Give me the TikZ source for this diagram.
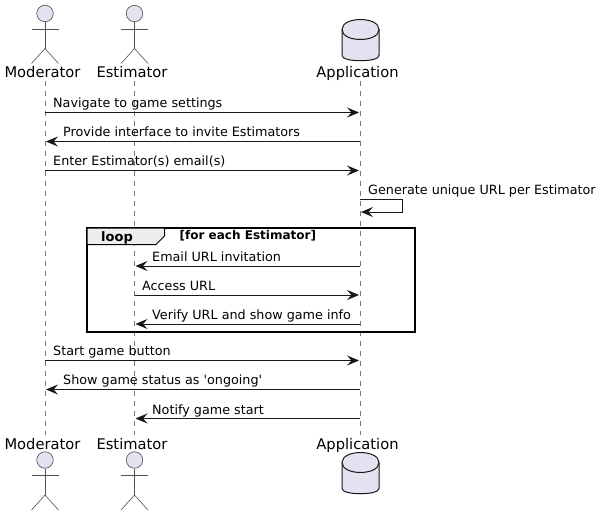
\documentclass[tikz,border=0pt]{standalone}
\usepackage{fontspec}
\setmainfont{DejaVu Sans}
\newfontfamily\plainf{DejaVu Sans}
\usetikzlibrary{arrows.meta}
\definecolor{actorfill}{HTML}{E2E2F0}
\definecolor{lifegrey}{HTML}{777777}
\definecolor{ink}{HTML}{181818}
\definecolor{tabfill}{HTML}{EEEEEE}
\tikzset{
  x=1pt,y=-1pt,
  lifeline/.style={draw=lifegrey,line width=0.6pt,dash pattern=on 5pt off 5pt},
  msg/.style={draw=ink,line width=0.9pt,-{Stealth[length=12pt,width=10pt,inset=4.5pt]},shorten >=1pt},
  actorlabel/.style={anchor=base,inner sep=0pt,font=\plainf\fontsize{14.7}{16}\selectfont,text=black},
  msglabel/.style={anchor=base west,inner sep=0pt,font=\plainf\fontsize{12.75}{15}\selectfont,text=black},
  stick/.style={draw=ink!75,line width=0.6pt},
  head/.style={circle,draw=ink!75,fill=actorfill,line width=0.6pt,minimum size=16.5pt,inner sep=0pt},
  dbline/.style={draw=ink,line width=1pt,fill=actorfill},
  framebox/.style={draw=black,line width=1.5pt},
}
\newcommand{\myactor}[3]{% name, x, head y
  \node[head] (#1) at (#2,#3) {};
  \draw[stick] (#1.south) -- ++(0,26.5) coordinate (#1hip);
  \draw[stick] (#2-13.5,#3+15.5) -- (#2+13.5,#3+15.5);
  \draw[stick] (#1hip) -- ++(-13.5,15);
  \draw[stick] (#1hip) -- ++(13.5,15);
}
\newcommand{\mydb}[2]{% x, top y
  \draw[dbline] (#1-18.5,#2+10) -- (#1-18.5,#2+36)
    .. controls (#1-18.5,#2+43) and (#1+18.5,#2+43) .. (#1+18.5,#2+36)
    -- (#1+18.5,#2+10)
    .. controls (#1+18.5,#2-3.3) and (#1-18.5,#2-3.3) .. (#1-18.5,#2+10) -- cycle;
  \draw[dbline,fill=none] (#1-18.5,#2+10)
    .. controls (#1-18.5,#2+23.3) and (#1+18.5,#2+23.3) .. (#1+18.5,#2+10);
}
\begin{document}
\begin{tikzpicture}
\useasboundingbox (0,0) rectangle (600,516);
\fill[white] (0,0) rectangle (600,516);
% lifelines
\coordinate (modT) at (45,81);   \coordinate (modB) at (45,435);
\coordinate (estT) at (134.5,81);\coordinate (estB) at (134.5,435);
\coordinate (appT) at (360,81);  \coordinate (appB) at (360,435);
\draw[lifeline] (modT) -- (modB);
\draw[lifeline] (estT) -- (estB);
\draw[lifeline] (appT) -- (appB);
% participants
\myactor{modH}{45}{13.5}
\myactor{estH}{134.5}{13.5}
\myactor{modF}{45}{460}
\myactor{estF}{134.5}{460}
\mydb{360.5}{19.5}
\mydb{360.5}{452.5}
\node[actorlabel] (modLa) at (42.5,78) {Moderator};
\node[actorlabel] (estLa) at (132,78) {Estimator};
\node[actorlabel] (appLa) at (357.5,78) {Application};
\node[actorlabel] (modLb) at (42.5,449) {Moderator};
\node[actorlabel] (estLb) at (132,449) {Estimator};
\node[actorlabel] (appLb) at (357.5,449) {Application};
% loop frame
\draw[framebox] (87,228) rectangle (415,332);
\draw[draw=black,line width=1pt,fill=tabfill] (87,228) -- (164.5,228) -- (164.5,236) -- (156,244.5) -- (87,244.5) -- cycle;
\node[anchor=base west,inner sep=0pt,font=\plainf\bfseries\fontsize{13}{15}\selectfont] (loopL) at (101,241) {loop};
\node[anchor=base west,inner sep=0pt,font=\plainf\bfseries\fontsize{12}{13}\selectfont] (loopG) at (179.5,240) {[for each Estimator]};
% messages
\coordinate (m1) at (0,112.5);
\coordinate (m2) at (0,141.5);
\coordinate (m3) at (0,170.5);
\coordinate (m4a) at (0,199.5);
\coordinate (m4b) at (0,212);
\coordinate (m5) at (0,266);
\coordinate (m6) at (0,295);
\coordinate (m7) at (0,324);
\coordinate (m8) at (0,360.5);
\coordinate (m9) at (0,389.5);
\coordinate (m10) at (0,418.5);
\draw[msg] (modT |- m1) -- (appT |- m1);
\draw[msg] (appT |- m2) -- (modT |- m2);
\draw[msg] (modT |- m3) -- (appT |- m3);
\coordinate (selfC) at (402.5,0);
\draw[msg] (appT |- m4a) -- (selfC |- m4a) -- (selfC |- m4b) -- (appT |- m4b);
\draw[msg] (appT |- m5) -- (estT |- m5);
\draw[msg] (estT |- m6) -- (appT |- m6);
\draw[msg] (appT |- m7) -- (estT |- m7);
\draw[msg] (modT |- m8) -- (appT |- m8);
\draw[msg] (appT |- m9) -- (modT |- m9);
\draw[msg] (appT |- m10) -- (estT |- m10);
% labels
\node[msglabel] (t1) at (53,107.5) {Navigate to game settings};
\node[msglabel] (t2) at (63,136.5) {Provide interface to invite Estimators};
\node[msglabel] (t3) at (53,165.5) {Enter Estimator(s) email(s)};
\node[msglabel] (t4) at (368,194.5) {Generate unique URL per Estimator};
\node[msglabel] (t5) at (152,261.5) {Email URL invitation};
\node[msglabel] (t6) at (142,290.5) {Access URL};
\node[msglabel] (t7) at (152,319.5) {Verify URL and show game info};
\node[msglabel] (t8) at (53,355.5) {Start game button};
\node[msglabel] (t9) at (63,384.5) {Show game status as 'ongoing'};
\node[msglabel] (t10) at (152,414) {Notify game start};
\end{tikzpicture}
\end{document}
